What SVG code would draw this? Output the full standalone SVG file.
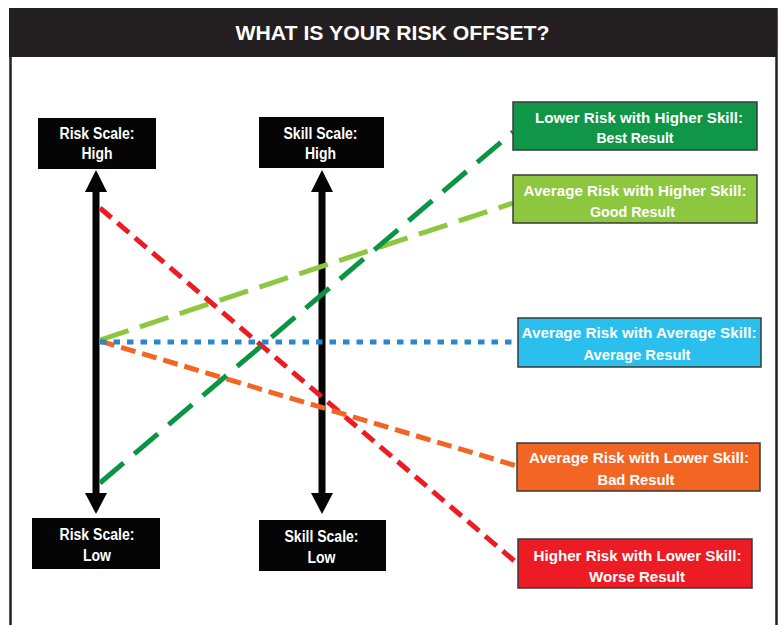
<svg xmlns="http://www.w3.org/2000/svg" width="781" height="625" viewBox="0 0 781 625">
<defs>
<style>
.t{font-family:"Liberation Sans",Arial,sans-serif;font-weight:bold;font-size:15.5px;fill:#fff;text-anchor:middle}
.s{font-size:16px}
.title{font-family:"Liberation Sans",Arial,sans-serif;font-weight:bold;font-size:20px;fill:#fff;text-anchor:middle}
.scale{fill:#050505}
.res{stroke:#3a3a3a;stroke-width:1.5}
.ln{fill:none;stroke-width:5}
</style>
</defs>
<rect width="781" height="625" fill="#fff"/>
<g id="frame">
<rect x="9" y="8" width="768" height="49" fill="#231f20"/>
<line x1="10.5" y1="8" x2="10.5" y2="625" stroke="#231f20" stroke-width="2.5"/>
<line x1="776.5" y1="8" x2="776.5" y2="625" stroke="#231f20" stroke-width="2.5"/>
<text class="title" x="392.5" y="40" textLength="314" lengthAdjust="spacingAndGlyphs">WHAT IS YOUR RISK OFFSET?</text>
</g>
<g id="connectors">
<g id="risk-axis" fill="#050505">
<rect x="92.5" y="188" width="7" height="308"/>
<polygon points="85,192 96,170 107,192"/>
<polygon points="85,493 96,514 107,493"/>
</g>
<g id="skill-axis" fill="#050505">
<rect x="318.5" y="188" width="7" height="308"/>
<polygon points="311,192 322,170 333,192"/>
<polygon points="311,493 322,514 333,493"/>
</g>
<line class="ln" x1="100" y1="340" x2="513" y2="203" stroke="#8dc63f" stroke-dasharray="30 12"/>
<line class="ln" x1="100" y1="208" x2="518" y2="564" stroke="#ed1c24" stroke-dasharray="15 8"/>
<line class="ln" x1="100" y1="341" x2="517" y2="466" stroke="#f26522" stroke-dasharray="15 7"/>
<line class="ln" x1="100" y1="483" x2="513" y2="132" stroke="#0b9444" stroke-dasharray="31 14"/>
<line class="ln" x1="100" y1="342" x2="518" y2="342" stroke="#2a88c8" stroke-width="6.5" stroke-dasharray="6.5 7"/>
</g>
<g id="risk-high">
<rect class="scale" x="38" y="118" width="118" height="51"/>
<text class="t s" x="97" y="139" textLength="75" lengthAdjust="spacingAndGlyphs">Risk Scale:</text>
<text class="t s" x="97" y="159" textLength="31" lengthAdjust="spacingAndGlyphs">High</text>
</g>
<g id="skill-high">
<rect class="scale" x="259" y="117" width="125" height="51"/>
<text class="t s" x="320.5" y="139" textLength="74" lengthAdjust="spacingAndGlyphs">Skill Scale:</text>
<text class="t s" x="320.5" y="159" textLength="31" lengthAdjust="spacingAndGlyphs">High</text>
</g>
<g id="risk-low">
<rect class="scale" x="32" y="518" width="128" height="51"/>
<text class="t s" x="97" y="540" textLength="75" lengthAdjust="spacingAndGlyphs">Risk Scale:</text>
<text class="t s" x="97" y="561" textLength="28" lengthAdjust="spacingAndGlyphs">Low</text>
</g>
<g id="skill-low">
<rect class="scale" x="259" y="520" width="127" height="51"/>
<text class="t s" x="321.5" y="542" textLength="74" lengthAdjust="spacingAndGlyphs">Skill Scale:</text>
<text class="t s" x="321.5" y="563" textLength="28" lengthAdjust="spacingAndGlyphs">Low</text>
</g>
<g id="best">
<rect class="res" x="513" y="102" width="244" height="48" fill="#0f9646"/>
<text class="t" x="639" y="123" textLength="208" lengthAdjust="spacingAndGlyphs">Lower Risk with Higher Skill:</text>
<text class="t" x="635" y="143" textLength="77" lengthAdjust="spacingAndGlyphs">Best Result</text>
</g>
<g id="good">
<rect class="res" x="513" y="175" width="244" height="48" fill="#8dc63f"/>
<text class="t" x="635" y="196" textLength="223" lengthAdjust="spacingAndGlyphs">Average Risk with Higher Skill:</text>
<text class="t" x="632.5" y="217" textLength="85" lengthAdjust="spacingAndGlyphs">Good Result</text>
</g>
<g id="average">
<rect class="res" x="518" y="318" width="243" height="49" fill="#2bbfee"/>
<text class="t" x="639" y="338" textLength="235" lengthAdjust="spacingAndGlyphs">Average Risk with Average Skill:</text>
<text class="t" x="637" y="360" textLength="107" lengthAdjust="spacingAndGlyphs">Average Result</text>
</g>
<g id="bad">
<rect class="res" x="517" y="443" width="243" height="48" fill="#f26522"/>
<text class="t" x="639" y="463" textLength="220" lengthAdjust="spacingAndGlyphs">Average Risk with Lower Skill:</text>
<text class="t" x="636" y="485" textLength="77" lengthAdjust="spacingAndGlyphs">Bad Result</text>
</g>
<g id="worse">
<rect class="res" x="518" y="539" width="234" height="49" fill="#ed1c24"/>
<text class="t" x="637.5" y="561" textLength="208" lengthAdjust="spacingAndGlyphs">Higher Risk with Lower Skill:</text>
<text class="t" x="637" y="582" textLength="96" lengthAdjust="spacingAndGlyphs">Worse Result</text>
</g>
</svg>
